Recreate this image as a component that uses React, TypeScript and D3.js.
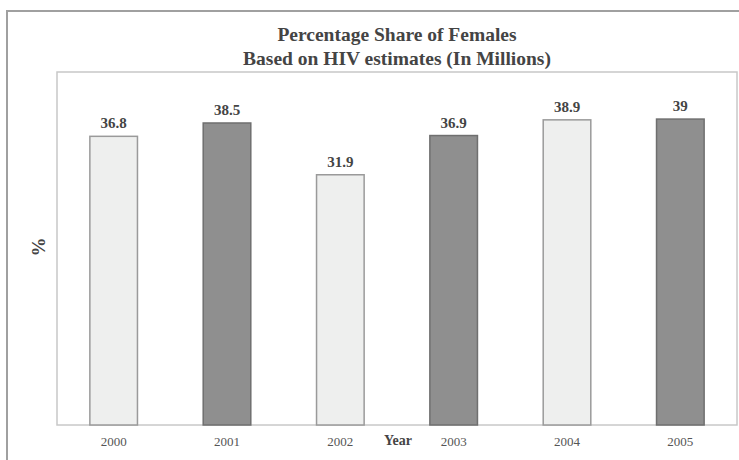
import React, { useEffect, useRef } from "react";
import * as d3 from "d3";

const years = ["2000", "2001", "2002", "2003", "2004", "2005"];
const shares = [36.8, 38.5, 31.9, 36.9, 38.9, 39];
const shareLabels = ["36.8", "38.5", "31.9", "36.9", "38.9", "39"];
const titleLines = ["Percentage Share of Females", "Based on HIV estimates (In Millions)"];

const FemaleShareChart = () => {
  const svgRef = useRef<SVGSVGElement>(null);

  useEffect(() => {
    const width = 739;
    const height = 460;
    const margin = { top: 72, right: 2, bottom: 35, left: 57 };
    const font = "'Liberation Serif', 'Times New Roman', serif";

    const svg = d3.select(svgRef.current)
      .attr("width", width)
      .attr("height", height)
      .attr("font-family", font);

    svg.selectAll("*").remove();

    svg.append("rect")
      .attr("width", width)
      .attr("height", height)
      .attr("fill", "white");

    // outer frame, runs off the right and bottom edges
    svg.append("rect")
      .attr("x", 7)
      .attr("y", 11)
      .attr("width", width + 20)
      .attr("height", height + 20)
      .attr("fill", "none")
      .attr("stroke", "#a0a0a0")
      .attr("stroke-width", 2);

    const x = d3.scaleBand()
      .domain(years)
      .range([margin.left, width - margin.right])
      .paddingInner(0.58)
      .paddingOuter(0.29);

    const y = d3.scaleLinear()
      .domain([0, 45])
      .range([height - margin.bottom, margin.top]);

    svg.append("rect")
      .attr("x", margin.left)
      .attr("y", margin.top)
      .attr("width", width - margin.left - margin.right)
      .attr("height", y(0) - margin.top)
      .attr("fill", "none")
      .attr("stroke", "#c8c8c8")
      .attr("stroke-width", 1.5);

    svg.selectAll(".bar")
      .data(shares)
      .enter().append("rect")
      .attr("class", "bar")
      .attr("x", (d, i) => x(years[i]))
      .attr("y", d => y(d))
      .attr("width", x.bandwidth())
      .attr("height", d => y(0) - y(d))
      .attr("fill", (d, i) => i % 2 === 0 ? "#eeefee" : "#8f8f8f")
      .attr("stroke", (d, i) => i % 2 === 0 ? "#9a9a9a" : "#6f6f6f")
      .attr("stroke-width", 1.5);

    svg.selectAll(".value")
      .data(shares)
      .enter().append("text")
      .attr("class", "value")
      .attr("x", (d, i) => x(years[i]) + x.bandwidth() / 2)
      .attr("y", d => y(d) - 8)
      .attr("text-anchor", "middle")
      .attr("font-size", "15px")
      .attr("font-weight", "bold")
      .attr("fill", "#444")
      .text((d, i) => shareLabels[i]);

    const axis = svg.append("g")
      .attr("transform", `translate(0,${y(0)})`)
      .call(d3.axisBottom(x).tickSize(0).tickPadding(12))
      .attr("font-family", font)
      .attr("font-size", 13);

    axis.select(".domain").remove();
    axis.selectAll("text")
      .attr("fill", "#555");

    svg.append("text")
      .attr("x", 398)
      .attr("y", 445)
      .attr("text-anchor", "middle")
      .attr("font-size", "14px")
      .attr("font-weight", "bold")
      .attr("fill", "#444")
      .text("Year");

    svg.append("text")
      .attr("transform", "translate(45,247) rotate(-90)")
      .attr("text-anchor", "middle")
      .attr("font-size", "19px")
      .attr("font-weight", "bold")
      .attr("fill", "#444")
      .text("%");

    svg.selectAll(".title")
      .data(titleLines)
      .enter().append("text")
      .attr("class", "title")
      .attr("x", 397)
      .attr("y", (d, i) => 41 + i * 24)
      .attr("text-anchor", "middle")
      .attr("font-size", "19.5px")
      .attr("font-weight", "bold")
      .attr("fill", "#444")
      .text(d => d);
  }, []);

  return <svg ref={svgRef} style={{ position: "absolute", left: 0, top: 0, display: "block" }}></svg>;
};

export default function App() {
  return <FemaleShareChart />;
}
